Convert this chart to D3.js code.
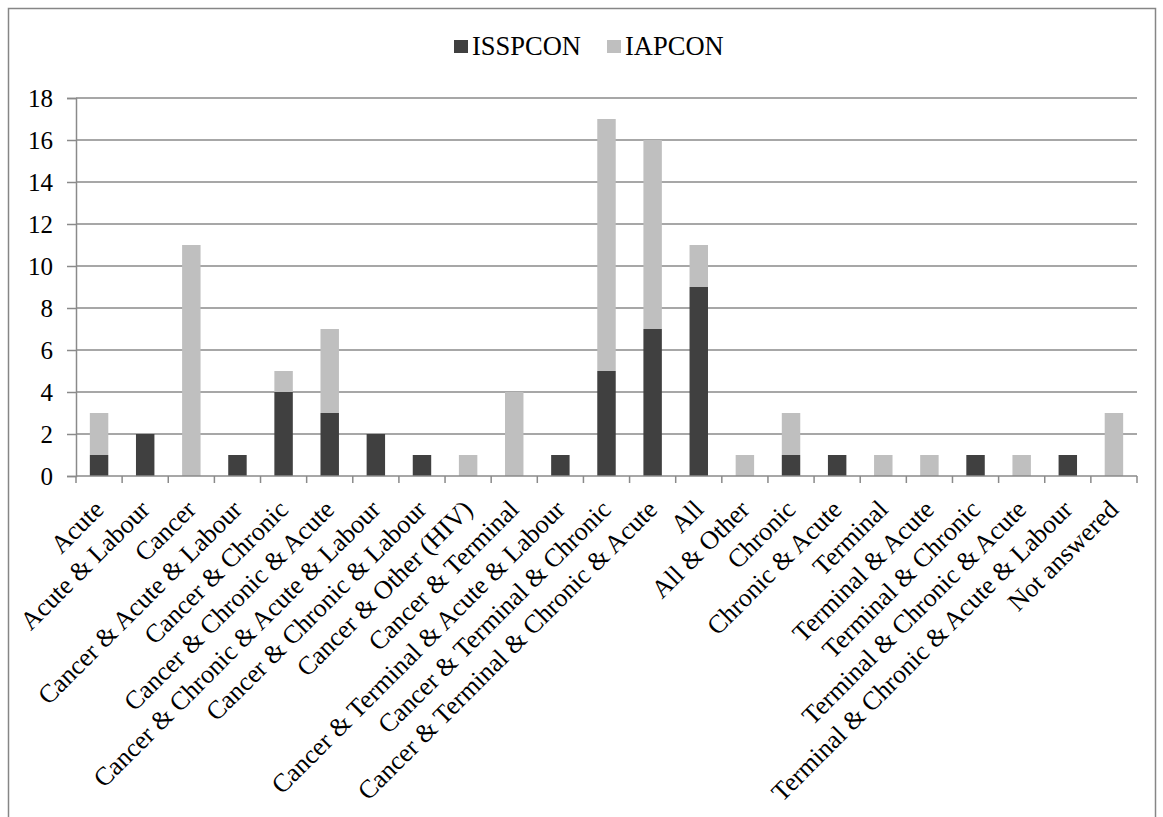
<!DOCTYPE html>
<html>
<head>
<meta charset="utf-8">
<script src="https://cdn.jsdelivr.net/npm/d3@7"></script>
<style>
  html, body { margin: 0; padding: 0; background: #fff; }
  svg { display: block; font-family: "Liberation Serif", "Times New Roman", serif; }
</style>
</head>
<body>
<svg id="chart" width="1163" height="817"></svg>
<script>
// Categories of condition combinations
const categories = [
  "Acute", "Acute & Labour", "Cancer", "Cancer & Acute & Labour", "Cancer & Chronic",
  "Cancer & Chronic & Acute", "Cancer & Chronic & Acute & Labour", "Cancer & Chronic & Labour",
  "Cancer & Other (HIV)", "Cancer & Terminal", "Cancer & Terminal & Acute & Labour",
  "Cancer & Terminal & Chronic", "Cancer & Terminal & Chronic & Acute", "All", "All & Other",
  "Chronic", "Chronic & Acute", "Terminal", "Terminal & Acute", "Terminal & Chronic",
  "Terminal & Chronic & Acute", "Terminal & Chronic & Acute & Labour", "Not answered"
];
// Series values (stacked: ISSPCON at the bottom, IAPCON on top)
const isspcon = [1, 2, 0, 1, 4, 3, 2, 1, 0, 0, 1, 5, 7, 9, 0, 1, 1, 0, 0, 1, 0, 1, 0];
const iapcon  = [2, 0, 11, 0, 1, 4, 0, 0, 1, 4, 0, 12, 9, 2, 1, 2, 0, 1, 1, 0, 1, 0, 3];
const seriesNames = ["ISSPCON", "IAPCON"];
const seriesColors = ["#404040", "#bfbfbf"];
const yTicks = [0, 2, 4, 6, 8, 10, 12, 14, 16, 18];

const svg = d3.select("#chart");
const serif = "'Liberation Serif', 'Times New Roman', serif";

// outer chart frame (runs past the bottom edge)
svg.append("rect")
  .attr("x", 8.5).attr("y", 8.5)
  .attr("width", 1147).attr("height", 830)
  .attr("fill", "#fff").attr("stroke", "#868686").attr("stroke-width", 1.5);

const plot = { left: 76, right: 1137, top: 98, bottom: 476 };

const x = d3.scaleBand()
  .domain(categories)
  .range([plot.left, plot.right])
  .paddingInner(0.6).paddingOuter(0.3);

const y = d3.scaleLinear().domain([0, 18]).range([plot.bottom, plot.top]);

const gridColor = "#8a8a8a";

// horizontal gridlines
svg.append("g").selectAll("line")
  .data(yTicks.filter(d => d > 0))
  .join("line")
  .attr("x1", plot.left).attr("x2", plot.right)
  .attr("y1", d => y(d)).attr("y2", d => y(d))
  .attr("stroke", gridColor).attr("stroke-width", 1.5);

// stacked bars
const rows = categories.map((c, i) => ({ cat: c, ISSPCON: isspcon[i], IAPCON: iapcon[i] }));
const stack = d3.stack().keys(seriesNames)(rows);

svg.append("g").selectAll("g")
  .data(stack)
  .join("g")
  .attr("fill", (d, i) => seriesColors[i])
  .selectAll("rect")
  .data(d => d.filter(p => p[1] - p[0] > 0))
  .join("rect")
  .attr("x", d => x(d.data.cat))
  .attr("width", x.bandwidth())
  .attr("y", d => y(d[1]))
  .attr("height", d => y(d[0]) - y(d[1]));

// y axis
const yAxis = d3.axisLeft(y).tickValues(yTicks).tickSize(9).tickPadding(14);
const gy = svg.append("g").attr("transform", `translate(${plot.left},0)`).call(yAxis)
  .attr("font-family", serif);
gy.select(".domain").attr("stroke", gridColor).attr("stroke-width", 1.5);
gy.selectAll(".tick line").attr("stroke", gridColor).attr("stroke-width", 1.5);
gy.selectAll(".tick text")
  .attr("font-family", serif)
  .attr("font-size", 25).attr("fill", "#000");

// x axis: tick marks sit between the categories
const xTickPos = d3.range(categories.length + 1).map(i => plot.left + i * (plot.right - plot.left) / categories.length);
const gx = svg.append("g");
gx.append("line")
  .attr("x1", plot.left).attr("x2", plot.right)
  .attr("y1", plot.bottom).attr("y2", plot.bottom)
  .attr("stroke", gridColor).attr("stroke-width", 1.5);
gx.selectAll("line.tk")
  .data(xTickPos)
  .join("line").attr("class", "tk")
  .attr("x1", d => d).attr("x2", d => d)
  .attr("y1", plot.bottom).attr("y2", plot.bottom + 7)
  .attr("stroke", gridColor).attr("stroke-width", 1.5);

// rotated category labels
gx.selectAll("text")
  .data(categories)
  .join("text")
  .attr("transform", d => `translate(${x(d) + x.bandwidth() / 2 + 6},${plot.bottom + 35}) rotate(-45)`)
  .attr("text-anchor", "end")
  .attr("font-family", serif)
  .attr("font-size", 26)
  .attr("fill", "#000")
  .text(d => d);

// legend
const legend = svg.append("g");
const legendItems = [{ name: seriesNames[0], color: seriesColors[0], x: 454 }, { name: seriesNames[1], color: seriesColors[1], x: 607 }];
legendItems.forEach(it => {
  legend.append("rect").attr("x", it.x).attr("y", 40).attr("width", 14).attr("height", 13).attr("fill", it.color);
  legend.append("text").attr("x", it.x + 18).attr("y", 55)
    .attr("font-family", serif)
    .attr("font-size", 26.5).attr("fill", "#000").text(it.name);
});
</script>
</body>
</html>
